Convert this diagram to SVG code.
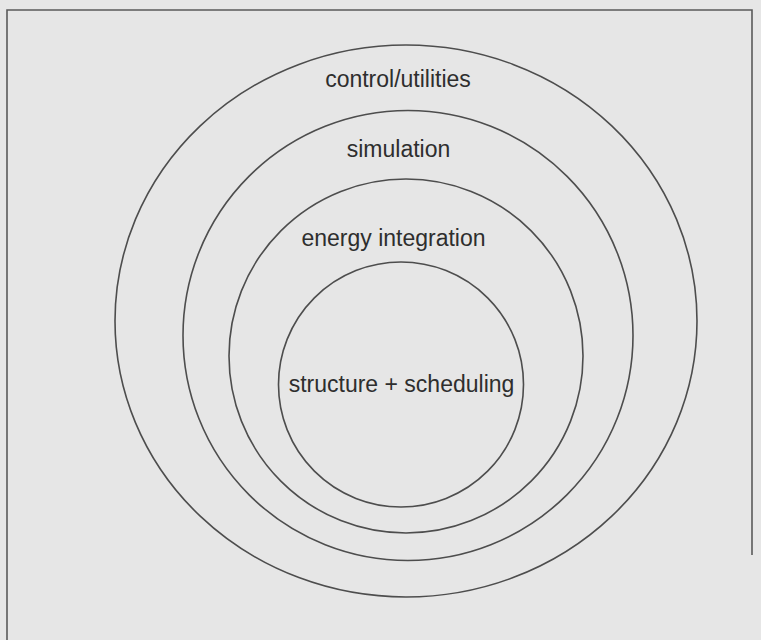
<svg xmlns="http://www.w3.org/2000/svg" width="761" height="640" viewBox="0 0 761 640">
<style>
.ring{fill:none;stroke:#4d4d4d;stroke-width:1.6}
.lbl{font-family:"Liberation Sans",Arial,sans-serif;font-size:23px;fill:#2e2e2e;text-anchor:middle}
</style>
<rect x="0" y="0" width="761" height="640" fill="#e6e6e6"/>
<path d="M7,645 V10 H752 V555" fill="none" stroke="#5a5a5a" stroke-width="1.6"/>
<g id="control-utilities">
<ellipse class="ring" cx="406" cy="321" rx="291" ry="276"/>
<text class="lbl" x="398" y="87">control/utilities</text>
</g>
<g id="simulation">
<circle class="ring" cx="408" cy="335.5" r="225"/>
<text class="lbl" x="398.5" y="157">simulation</text>
</g>
<g id="energy-integration">
<circle class="ring" cx="406" cy="356" r="177"/>
<text class="lbl" x="393.5" y="246">energy integration</text>
</g>
<g id="structure-scheduling">
<circle class="ring" cx="401" cy="384.5" r="122.5"/>
<text class="lbl" x="401.5" y="392">structure + scheduling</text>
</g>
<g id="connectors"/>
</svg>
